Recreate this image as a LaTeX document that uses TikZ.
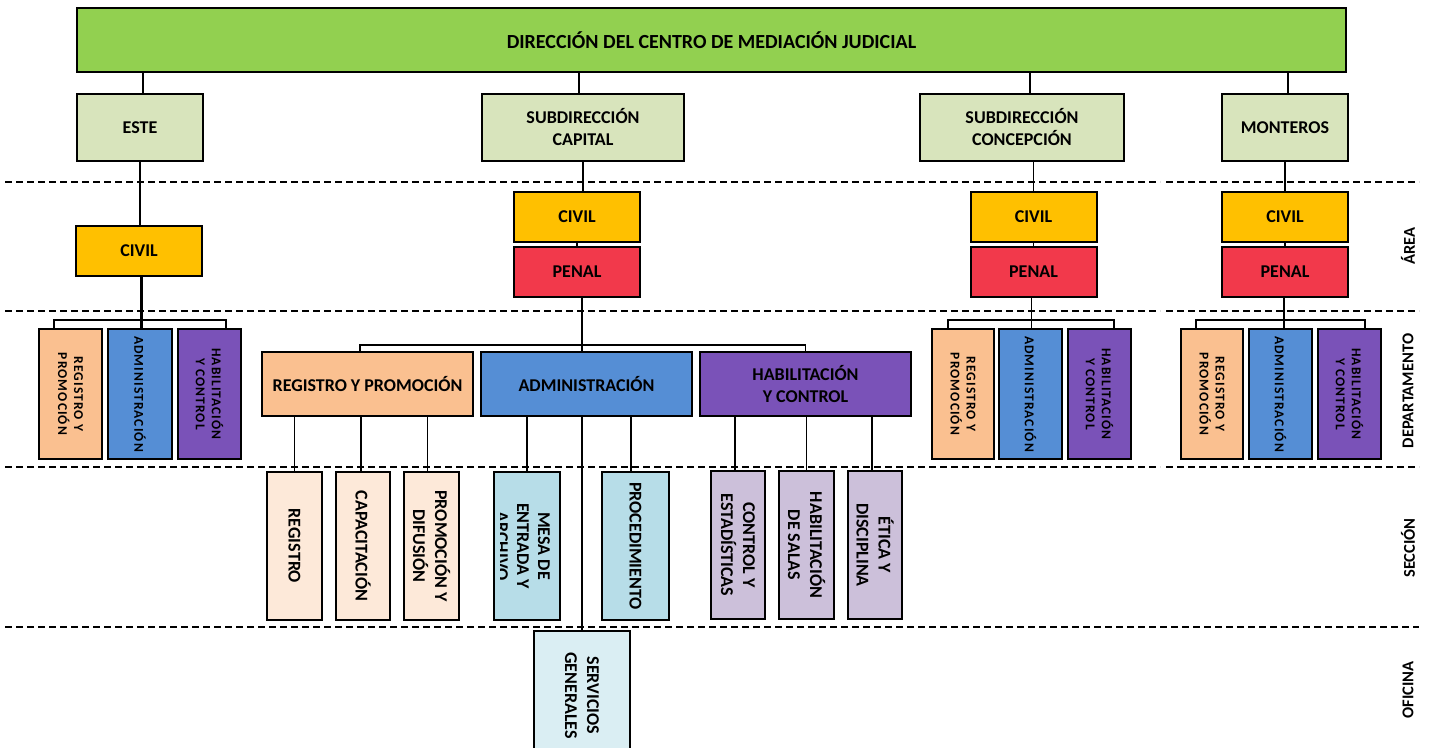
\documentclass[tikz,border=0pt]{standalone}
\usepackage{fontspec}
\setmainfont{Carlito}
\newfontfamily\spfont{Carlito}[LetterSpace=8]
\definecolor{cTop}{HTML}{92D050}
\definecolor{cSub}{HTML}{D8E4BC}
\definecolor{cCivil}{HTML}{FFC000}
\definecolor{cPenal}{HTML}{F2394B}
\definecolor{cRP}{HTML}{FAC090}
\definecolor{cAdm}{HTML}{558ED5}
\definecolor{cHab}{HTML}{7A52B8}
\definecolor{cSecRP}{HTML}{FDE9D9}
\definecolor{cSecAdm}{HTML}{B7DDE8}
\definecolor{cSecHab}{HTML}{CCC0DA}
\definecolor{cServ}{HTML}{DAEEF3}
\tikzset{
 bx/.style={draw=black, line width=2pt, inner sep=1pt, align=center, font=\fontsize{18}{22}\selectfont\bfseries},
 ln/.style={line width=1.8pt},
 thk/.style={line width=3pt},
 dl/.style={line width=1.6pt, dash pattern=on 7pt off 4pt},
 vt/.style={path picture={\node[rotate=-90, draw=none, fill=none, align=center, font=\fontsize{18}{22}\selectfont\bfseries] at (path picture bounding box.center) {#1};}},
 vd/.style={path picture={\node[rotate=-90, draw=none, fill=none, align=center, font=\spfont\fontsize{13.5}{16}\selectfont\bfseries] at (path picture bounding box.center) {#1};}},
 lab/.style={rotate=90, font=\fontsize{16.5}{19}\selectfont\bfseries},
}
\begin{document}
\begin{tikzpicture}[x=1pt,y=-1pt]
\useasboundingbox (0,0) rectangle (1429,747);
\clip (0,0) rectangle (1429,747);
\fill[white] (0,0) rectangle (1429,747);
% level separators
\draw[dl] (5,182) -- (1160,182); \draw[dl] (1166,182) -- (1419,182);
\draw[dl] (5,311) -- (1160,311); \draw[dl] (1166,311) -- (1419,311);
\draw[dl] (5,467) -- (1160,467); \draw[dl] (1166,467) -- (1419,467);
\draw[dl] (5,627) -- (1419,627);
% level labels
\node[lab] (lA) at (1408,246) {ÁREA};
\node[lab] (lD) at (1408,391) {DEPARTAMENTO};
\node[lab] (lS) at (1408,548) {SECCIÓN};
\node[lab] (lO) at (1408,690) {OFICINA};
% top
\node[bx, fill=cTop, minimum width=1269, minimum height=64, font=\fontsize{20}{24}\selectfont\bfseries] (top) at (711.5,40) {DIRECCIÓN DEL CENTRO DE MEDIACIÓN JUDICIAL};
% level 2
\node[bx, fill=cSub, minimum width=126, minimum height=67] (este) at (140,127.5) {ESTE};
\node[bx, fill=cSub, minimum width=202, minimum height=67] (cap) at (583,127.5) {SUBDIRECCIÓN\\CAPITAL};
\node[bx, fill=cSub, minimum width=204, minimum height=67] (con) at (1022,127.5) {SUBDIRECCIÓN\\CONCEPCIÓN};
\node[bx, fill=cSub, minimum width=126, minimum height=67] (mon) at (1285,127.5) {MONTEROS};
% areas
\node[bx, fill=cCivil, minimum width=126, minimum height=50] (eciv) at (139,251) {CIVIL};
\node[bx, fill=cCivil, minimum width=126, minimum height=50] (cciv) at (577,217) {CIVIL};
\node[bx, fill=cPenal, minimum width=126, minimum height=50] (cpen) at (577,272) {PENAL};
\node[bx, fill=cCivil, minimum width=126, minimum height=50] (kciv) at (1033.5,217) {CIVIL};
\node[bx, fill=cPenal, minimum width=126, minimum height=50] (kpen) at (1033.5,272) {PENAL};
\node[bx, fill=cCivil, minimum width=126, minimum height=50] (mciv) at (1285,217) {CIVIL};
\node[bx, fill=cPenal, minimum width=126, minimum height=50] (mpen) at (1285,272) {PENAL};
% departments (narrow)
\node[bx, fill=cRP, minimum width=63, minimum height=130, vd={REGISTRO Y\\PROMOCIÓN}] (erp) at (70.5,394) {};
\node[bx, fill=cAdm, minimum width=64, minimum height=130, vd={ADMINISTRACIÓN}] (eadm) at (140,394) {};
\node[bx, fill=cHab, minimum width=63, minimum height=130, vd={HABILITACIÓN\\Y CONTROL}] (ehab) at (209.5,394) {};
\node[bx, fill=cRP, minimum width=62, minimum height=130, vd={REGISTRO Y\\PROMOCIÓN}] (krp) at (963,394) {};
\node[bx, fill=cAdm, minimum width=63, minimum height=130, vd={ADMINISTRACIÓN}] (kadm) at (1030.5,394) {};
\node[bx, fill=cHab, minimum width=63, minimum height=130, vd={HABILITACIÓN\\Y CONTROL}] (khab) at (1099.5,394) {};
\node[bx, fill=cRP, minimum width=62, minimum height=130, vd={REGISTRO Y\\PROMOCIÓN}] (mrp) at (1212,394) {};
\node[bx, fill=cAdm, minimum width=63, minimum height=130, vd={ADMINISTRACIÓN}] (madm) at (1280.5,394) {};
\node[bx, fill=cHab, minimum width=63, minimum height=130, vd={HABILITACIÓN\\Y CONTROL}] (mhab) at (1349.5,394) {};
% departments (capital)
\node[bx, fill=cRP, minimum width=211, minimum height=64] (crp) at (367.5,384) {REGISTRO Y PROMOCIÓN};
\node[bx, fill=cAdm, minimum width=211, minimum height=64] (cadm) at (586.5,384) {ADMINISTRACIÓN};
\node[bx, fill=cHab, minimum width=211, minimum height=64] (chab) at (805.5,384) {HABILITACIÓN\\Y CONTROL};
% sections
\node[bx, fill=cSecRP, minimum width=55, minimum height=148, vt={REGISTRO}] (s1) at (294.5,546) {};
\node[bx, fill=cSecRP, minimum width=54, minimum height=148, vt={CAPACITACIÓN}] (s2) at (363,546) {};
\node[bx, fill=cSecRP, minimum width=55, minimum height=148, vt={PROMOCIÓN Y\\DIFUSIÓN}] (s3) at (431.5,546) {};
\node[bx, fill=cSecAdm, minimum width=66, minimum height=148,
  path picture={\clip ([xshift=6pt]path picture bounding box.south west) rectangle (path picture bounding box.north east);
  \node[rotate=-90, draw=none, fill=none, align=center, font=\fontsize{18}{21}\selectfont\bfseries] at ([xshift=-4pt]path picture bounding box.center) {MESA DE\\ENTRADA Y\\ARCHIVO};}] (s4) at (527,546) {};
\node[bx, fill=cSecAdm, minimum width=67, minimum height=148, vt={PROCEDIMIENTO}] (s5) at (635.5,546) {};
\node[bx, fill=cSecHab, minimum width=54, minimum height=148, vt={CONTROL Y\\ESTADÍSTICAS}] (s6) at (738,545) {};
\node[bx, fill=cSecHab, minimum width=55, minimum height=148, vt={HABILITACIÓN\\DE SALAS}] (s7) at (806.5,545) {};
\node[bx, fill=cSecHab, minimum width=54, minimum height=148, vt={ÉTICA Y\\DISCIPLINA}] (s8) at (875,545) {};
% office
\node[bx, fill=cServ, minimum width=96, minimum height=129, vt={SERVICIOS\\GENERALES}] (serv) at (582,695.5) {};
% connectors: top to level 2
\draw[ln] ([xshift=3pt]este.north) -- ([xshift=3pt]este.north |- top.south);
\draw[ln] ([xshift=-4pt]cap.north) -- ([xshift=-4pt]cap.north |- top.south);
\draw[ln] ([xshift=8pt]con.north) -- ([xshift=8pt]con.north |- top.south);
\draw[ln] ([xshift=3pt]mon.north) -- ([xshift=3pt]mon.north |- top.south);
% level 2 to areas
\draw[ln] (este.south) -- (este.south |- eciv.north);
\draw[ln] (cap.south) -- (cap.south |- cciv.north);
\draw[ln] (kciv.north) -- (kciv.north |- con.south);
\draw[ln] (mciv.north) -- (mciv.north |- mon.south);
\draw[ln] (cciv.south) -- (cpen.north);
\draw[ln] (kciv.south) -- (kpen.north);
\draw[ln] (mciv.south) -- (mpen.north);
% areas to departments
\draw[thk] ([xshift=2pt]eciv.south) -- ([xshift=2pt]eciv.south |- eadm.north);
\coordinate (ebr) at (141,320);
\draw[ln] ([xshift=-16.5pt]erp.north) |- (ebr) -| ([xshift=16.5pt]ehab.north);
\draw[ln] ([xshift=-2pt]kpen.south) -- ([xshift=-2pt]kpen.south |- kadm.north);
\coordinate (kbr) at (1031,320);
\draw[ln] ([xshift=-15pt]krp.north) |- (kbr) -| ([xshift=14.5pt]khab.north);
\draw[ln] ([xshift=-1pt]mpen.south) -- ([xshift=-1pt]mpen.south |- madm.north);
\coordinate (mbr) at (1284,320);
\draw[ln] ([xshift=-16pt]mrp.north) |- (mbr) -| ([xshift=15.5pt]mhab.north);
\draw[ln] (cpen.south -| serv.north) -- (cadm.north -| serv.north);
\coordinate (cbr) at (582,345);
\draw[ln] ([xshift=-7.5pt]crp.north) |- (cbr) -| (chab.north);
% departments to sections
\draw[ln] (s1.north) -- (s1.north |- crp.south);
\draw[ln] ([xshift=-2pt]s2.north) -- ([xshift=-2pt]s2.north |- crp.south);
\draw[ln] ([xshift=-4pt]s3.north) -- ([xshift=-4pt]s3.north |- crp.south);
\draw[ln] (s4.north) -- (s4.north |- cadm.south);
\draw[ln] ([xshift=-4.5pt]s5.north) -- ([xshift=-4.5pt]s5.north |- cadm.south);
\draw[ln] ([xshift=-3pt]s6.north) -- ([xshift=-3pt]s6.north |- chab.south);
\draw[ln] (s7.north) -- (s7.north |- chab.south);
\draw[ln] ([xshift=-3pt]s8.north) -- ([xshift=-3pt]s8.north |- chab.south);
\draw[ln] (cadm.south -| serv.north) -- (serv.north);
\end{tikzpicture}
\end{document}
